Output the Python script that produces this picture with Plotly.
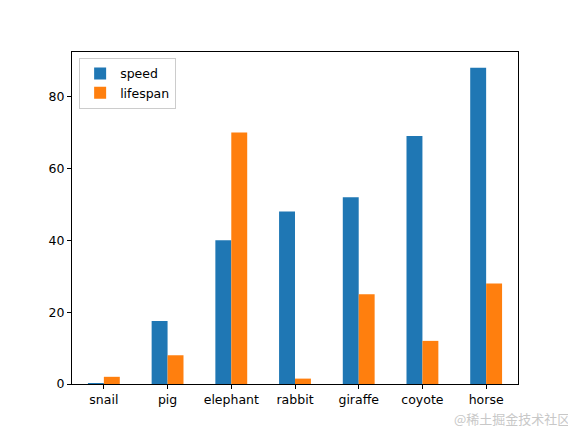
import plotly.graph_objects as go

# 动物数据
animals = ['snail', 'pig', 'elephant', 'rabbit', 'giraffe', 'coyote', 'horse']
speed = [0.1, 17.5, 40, 48, 52, 69, 88]
lifespan = [2, 8, 70, 1.5, 25, 12, 28]

fig = go.Figure()
fig.add_trace(go.Bar(x=animals, y=speed, name='speed', marker=dict(color='#1f77b4', line=dict(width=0))))
fig.add_trace(go.Bar(x=animals, y=lifespan, name='lifespan', marker=dict(color='#ff7f0e', line=dict(width=0))))

axis_style = dict(
    showline=True, linecolor='black', linewidth=1, mirror=True,
    ticks='outside', ticklen=4, tickcolor='black', showgrid=False, zeroline=False,
)

# 页面自带 8px 边距，所以图形尺寸缩小 8px
fig.update_layout(
    width=568, height=424,
    barmode='group', bargap=0.5, bargroupgap=0,
    plot_bgcolor='white', paper_bgcolor='white',
    font=dict(family='DejaVu Sans', size=12.5, color='black'),
    margin=dict(l=64, r=58, t=44, b=48),
    xaxis=dict(axis_style, range=[-0.5, 6.5], tickangle=0),
    yaxis=dict(axis_style, range=[0, 92.4], tickvals=[0, 20, 40, 60, 80]),
    showlegend=True,
    legend=dict(x=0.016, y=0.982, xanchor='left', yanchor='top',
                bordercolor='#cccccc', borderwidth=1, bgcolor='rgba(255,255,255,0.8)',
                font=dict(size=12.5)),
    annotations=[dict(text='@稀土掘金技术社区', x=1, y=0, xref='paper', yref='paper',
                      xanchor='right', yanchor='bottom', xshift=54, yshift=-46,
                      showarrow=False,
                      font=dict(family='Noto Sans CJK SC', size=13, color='#c8c8c8'))],
)

fig.write_html("out.html")
